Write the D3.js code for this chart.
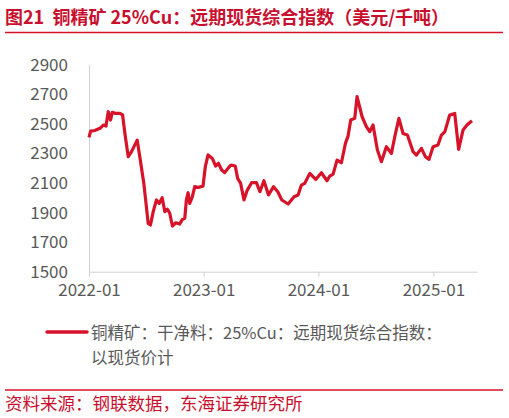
<!DOCTYPE html>
<html><head><meta charset="utf-8">
<script src="https://cdn.jsdelivr.net/npm/d3@7"></script>
<style>body{margin:0;background:#fff}svg{display:block}text{font-family:"Noto Sans CJK SC","Noto Sans",sans-serif}</style>
</head><body><svg id="c" width="509" height="418"></svg>
<script>
const titleText = "图21  铜精矿 25%Cu：远期现货综合指数（美元/千吨）";
const legendLines = ["铜精矿：干净料：25%Cu：远期现货综合指数：", "以现货价计"];
const sourceText = "资料来源：钢联数据，东海证券研究所";
const yTicks = [1500,1700,1900,2100,2300,2500,2700,2900];
const xTickLabels = ["2022-01","2023-01","2024-01","2025-01"];
// time in fractional years
const times = [2022.00,2022.014,2022.05,2022.096,2022.125,2022.148,2022.168,2022.188,2022.203,2022.226,2022.27,2022.293,2022.313,2022.342,2022.371,2022.42,2022.443,2022.478,2022.516,2022.536,2022.56,2022.588,2022.612,2022.638,2022.661,2022.684,2022.704,2022.727,2022.757,2022.791,2022.814,2022.835,2022.849,2022.864,2022.878,2022.901,2022.922,2022.951,2022.994,2023.014,2023.038,2023.075,2023.104,2023.128,2023.157,2023.183,2023.223,2023.238,2023.275,2023.296,2023.322,2023.351,2023.38,2023.418,2023.46,2023.49,2023.525,2023.565,2023.609,2023.646,2023.681,2023.736,2023.788,2023.823,2023.852,2023.88,2023.925,2023.977,2024.026,2024.075,2024.099,2024.128,2024.162,2024.2,2024.235,2024.258,2024.281,2024.316,2024.336,2024.38,2024.417,2024.446,2024.475,2024.513,2024.548,2024.591,2024.635,2024.664,2024.7,2024.736,2024.774,2024.823,2024.852,2024.896,2024.93,2024.962,2024.997,2025.04,2025.07,2025.1,2025.142,2025.186,2025.22,2025.258,2025.293,2025.336,2025.374];
const values = [2408,2451,2455,2470,2492,2485,2582,2526,2578,2571,2571,2560,2435,2278,2312,2390,2278,2097,1827,1816,1906,1985,1962,2000,1906,1922,1895,1809,1831,1822,1854,1861,1985,2034,1962,2007,2075,2070,2079,2210,2290,2266,2215,2233,2188,2170,2210,2221,2215,2131,2097,1985,2052,2102,2102,2041,2115,2019,2075,2041,1985,1958,2007,2019,2086,2097,2165,2124,2169,2115,2147,2160,2255,2237,2368,2417,2526,2537,2684,2548,2481,2447,2492,2323,2244,2345,2300,2413,2537,2435,2424,2312,2289,2334,2278,2260,2345,2357,2424,2447,2560,2570,2327,2458,2492,2521];
const red = "#d7132a";
const svg = d3.select("#c");
const toDate = t => { const y = Math.floor(t); const a = new Date(y,0,1), b = new Date(y+1,0,1); return new Date(+a + (t-y)*(b-a)); };
const data = times.map((t,i)=>({d:toDate(t), v:values[i]}));
const x = d3.scaleTime().domain([new Date(2022,0,1), toDate(2025.38)]).range([89,477]);
const y = d3.scaleLinear().domain([1500,2900]).range([271.7,64.7]);
// title
svg.append("text").attr("x",5).attr("y",24).attr("fill","#c8102e").attr("font-size",18).attr("font-weight","bold").attr("xml:space","preserve").style("white-space","pre").text(titleText);
svg.append("line").attr("x1",5).attr("x2",503).attr("y1",32.5).attr("y2",32.5).attr("stroke",red).attr("stroke-width",1.5);
// axes
const ya = svg.append("g").attr("transform","translate(89,0)").call(d3.axisLeft(y).tickValues(yTicks).tickFormat(d3.format("d")).tickSize(0).tickPadding(21));
ya.select(".domain").attr("stroke","#d0d0d0");
ya.selectAll("text").attr("font-size",17).attr("fill","#595959").attr("font-family","Liberation Sans, Arial, sans-serif");
const xt = xTickLabels.map(s=>{const [yy,mm]=s.split("-");return new Date(+yy,+mm-1,1);});
const xa = svg.append("g").attr("transform","translate(0,271.7)").call(d3.axisBottom(x).tickValues(xt).tickFormat(d3.timeFormat("%Y-%m")).tickSize(5).tickSizeOuter(0).tickPadding(7));
xa.select(".domain").attr("stroke","#d0d0d0");
xa.selectAll("line").attr("stroke","#d0d0d0");
xa.selectAll("text").attr("font-size",17).attr("fill","#595959").attr("font-family","Liberation Sans, Arial, sans-serif");
// line
svg.append("path").datum(data).attr("fill","none").attr("stroke",red).attr("stroke-width",3.2).attr("stroke-linejoin","round")
  .attr("d",d3.line().x(d=>x(d.d)).y(d=>y(d.v)));
// legend
svg.append("line").attr("x1",47).attr("x2",87).attr("y1",332).attr("y2",332).attr("stroke",red).attr("stroke-width",3.5).attr("stroke-linecap","round");
legendLines.forEach((s,i)=>svg.append("text").attr("x",91).attr("y",339+i*25).attr("font-size",16.5).attr("fill","#595959").text(s));
// source
svg.append("line").attr("x1",5).attr("x2",503).attr("y1",390).attr("y2",390).attr("stroke",red).attr("stroke-width",1.5);
svg.append("text").attr("x",5).attr("y",410).attr("font-size",17.5).attr("fill","#c8102e").text(sourceText);
</script></body></html>
